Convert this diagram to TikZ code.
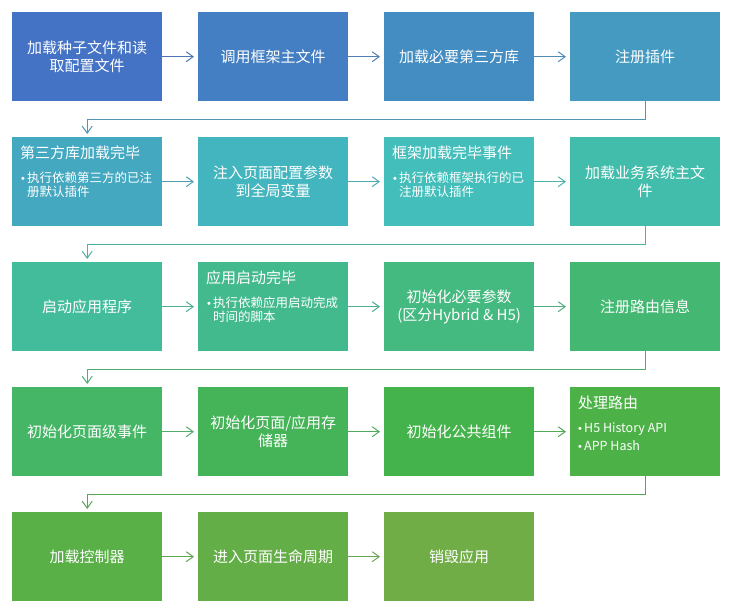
\documentclass[tikz,border=0pt]{standalone}
\usepackage{fontspec}
\setmainfont{Noto Sans CJK SC}
\newfontfamily\bulletfont{Liberation Sans}
\usetikzlibrary{arrows.meta}
\definecolor{c0}{RGB}{68,114,196}
\definecolor{c1}{RGB}{68,127,195}
\definecolor{c2}{RGB}{68,141,194}
\definecolor{c3}{RGB}{68,154,193}
\definecolor{c4}{RGB}{68,168,192}
\definecolor{c5}{RGB}{67,181,191}
\definecolor{c6}{RGB}{67,190,186}
\definecolor{c7}{RGB}{67,189,171}
\definecolor{c8}{RGB}{67,188,156}
\definecolor{c9}{RGB}{67,186,142}
\definecolor{c10}{RGB}{68,185,128}
\definecolor{c11}{RGB}{68,184,114}
\definecolor{c12}{RGB}{69,182,101}
\definecolor{c13}{RGB}{69,180,88}
\definecolor{c14}{RGB}{69,179,75}
\definecolor{c15}{RGB}{76,177,70}
\definecolor{c16}{RGB}{88,176,70}
\definecolor{c17}{RGB}{100,174,71}
\definecolor{c18}{RGB}{112,173,71}
\begin{document}
\begin{tikzpicture}[x=1pt,y=-1pt,
  box/.style={draw=none, minimum width=150pt, minimum height=89pt, inner sep=0pt,
    anchor=north west, text=white, align=center, font=\fontsize{15}{18}\selectfont},
  ttl/.style={anchor=base west, inner sep=0pt, text=white, font=\fontsize{15}{18}\selectfont},
  bul/.style={anchor=base west, inner sep=0pt, text=white, font=\fontsize{12.5}{15}\selectfont},
  dot/.style={anchor=base west, inner sep=0pt, text=white, font=\bulletfont\fontsize{11}{15}\selectfont},
  conn/.style={draw=#1!80!gray, line width=1pt, shorten >=4pt,
    -{Straight Barb[length=7pt,width=10pt,line width=1pt]}},
  elbow/.style={draw=#1!80!gray, line width=1pt, shorten >=3pt,
    -{Straight Barb[length=7pt,width=10pt,line width=1pt]}}]
\useasboundingbox (0,0) rectangle (729,612);

% Row 1
\node[box, fill=c0] (b0) at (12,12) {加载种子文件和读\\取配置文件};
\node[box, fill=c1] (b1) at (198,12) {调用框架主文件};
\node[box, fill=c2] (b2) at (384,12) {加载必要第三方库};
\node[box, fill=c3] (b3) at (570,12) {注册插件};

% Row 2
\node[box, fill=c4] (b4) at (12,137) {};
\node[ttl] (t4) at (20,159) {第三方库加载完毕};
\node[dot] (d4) at (21,183) {•};
\node[bul] (l4a) at (27,183) {执行依赖第三方的已注};
\node[bul] (l4b) at (27,197) {册默认插件};
\node[box, fill=c5] (b5) at (198,137) {注入页面配置参数\\到全局变量};
\node[box, fill=c6] (b6) at (384,137) {};
\node[ttl] (t6) at (392,159) {框架加载完毕事件};
\node[dot] (d6) at (393,183) {•};
\node[bul] (l6a) at (399,183) {执行依赖框架执行的已};
\node[bul] (l6b) at (399,197) {注册默认插件};
\node[box, fill=c7] (b7) at (570,137) {加载业务系统主文\\件};

% Row 3
\node[box, fill=c8] (b8) at (12,262) {启动应用程序};
\node[box, fill=c9] (b9) at (198,262) {};
\node[ttl] (t9) at (206,284) {应用启动完毕};
\node[dot] (d9) at (207,308) {•};
\node[bul] (l9a) at (213,308) {执行依赖应用启动完成};
\node[bul] (l9b) at (213,322) {时间的脚本};
\node[box, fill=c10] (b10) at (384,262) {初始化必要参数\\(区分Hybrid \& H5)};
\node[box, fill=c11] (b11) at (570,262) {注册路由信息};

% Row 4
\node[box, fill=c12] (b12) at (12,387) {初始化页面级事件};
\node[box, fill=c13] (b13) at (198,387) {初始化页面/应用存\\储器};
\node[box, fill=c14] (b14) at (384,387) {初始化公共组件};
\node[box, fill=c15] (b15) at (570,387) {};
\node[ttl] (t15) at (578,409) {处理路由};
\node[dot] (d15) at (578,433) {•};
\node[bul] (l15a) at (584,433) {H5 History API};
\node[bul] (l15b) at (584,450) {APP Hash};

% Row 5
\node[box, fill=c16] (b16) at (12,512) {加载控制器};
\node[box, fill=c17] (b17) at (198,512) {进入页面生命周期};
\node[box, fill=c18] (b18) at (384,512) {销毁应用};
\node[dot] (d15b) at (578,450) {•};

% Horizontal connectors
\draw[conn=c0] (b0.east) -- (b1.west);
\draw[conn=c1] (b1.east) -- (b2.west);
\draw[conn=c2] (b2.east) -- (b3.west);
\draw[conn=c4] ([yshift=0pt]b4.east) -- (b5.west);
\draw[conn=c5] (b5.east) -- (b6.west);
\draw[conn=c6] (b6.east) -- (b7.west);
\draw[conn=c8] (b8.east) -- (b9.west);
\draw[conn=c9] (b9.east) -- (b10.west);
\draw[conn=c10] (b10.east) -- (b11.west);
\draw[conn=c12] (b12.east) -- (b13.west);
\draw[conn=c13] (b13.east) -- (b14.west);
\draw[conn=c14] (b14.east) -- (b15.west);
\draw[conn=c16] (b16.east) -- (b17.west);
\draw[conn=c17] (b17.east) -- (b18.west);

% Row-to-row elbow connectors
\draw[elbow=c3] (b3.south) -- ++(0,18) -| (b4.north);
\draw[elbow=c7] (b7.south) -- ++(0,18) -| (b8.north);
\draw[elbow=c11] (b11.south) -- ++(0,18) -| (b12.north);
\draw[elbow=c15] (b15.south) -- ++(0,18) -| (b16.north);
\end{tikzpicture}
\end{document}
